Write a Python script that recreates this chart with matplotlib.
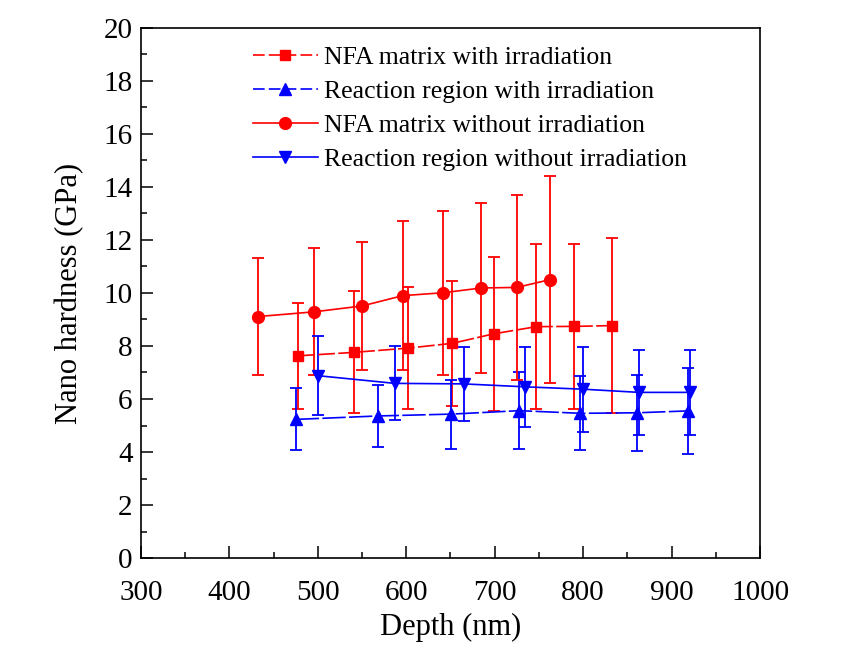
import matplotlib
matplotlib.use("Agg")
import matplotlib.pyplot as plt
from matplotlib.ticker import MultipleLocator
from matplotlib.lines import Line2D

plt.rcParams['font.family'] = ['Liberation Serif', 'DejaVu Serif']

# NFA matrix with irradiation (squares, dashed)
x_sq = [478, 541, 602, 652, 699, 747, 790, 833]
y_sq = [7.63, 7.76, 7.92, 8.10, 8.46, 8.73, 8.74, 8.77]
e_sq = [2.0, 2.3, 2.3, 2.35, 2.9, 3.1, 3.1, 3.3]

# Reaction region with irradiation (up triangles, dashed)
x_ut = [475, 568, 651, 728, 797, 861, 918]
y_ut = [5.23, 5.36, 5.43, 5.56, 5.46, 5.48, 5.55]
e_ut = [1.17, 1.17, 1.3, 1.45, 1.4, 1.43, 1.62]

# NFA matrix without irradiation (circles, solid)
x_ci = [432, 496, 550, 596, 642, 685, 725, 762]
y_ci = [9.11, 9.29, 9.51, 9.90, 10.01, 10.19, 10.21, 10.50]
e_ci = [2.2, 2.4, 2.4, 2.8, 3.1, 3.2, 3.5, 3.9]

# Reaction region without irradiation (down triangles, solid)
x_dt = [500, 587, 665, 734, 800, 863, 921]
y_dt = [6.88, 6.59, 6.57, 6.46, 6.37, 6.25, 6.25]
e_dt = [1.5, 1.4, 1.4, 1.5, 1.6, 1.6, 1.6]

labels = ["NFA matrix with irradiation",
          "Reaction region with irradiation",
          "NFA matrix without irradiation",
          "Reaction region without irradiation"]

fig = plt.figure(figsize=(8.44, 6.46), dpi=100)
ax = fig.add_axes([0.167, 0.1362, 0.7335, 0.8205])

red = '#ff0000'
blue = '#0000ff'
lw = 1.2
ekw = dict(elinewidth=1.3, capthick=1.3, capsize=4)

h1 = ax.errorbar(x_sq, y_sq, yerr=e_sq, color=red, marker='s', ms=6.5,
                 lw=lw, dashes=[10, 2], **ekw)
h2 = ax.errorbar(x_ut, y_ut, yerr=e_ut, color=blue, marker='^', ms=8.5,
                 lw=lw, dashes=[14, 2], **ekw)
h3 = ax.errorbar(x_ci, y_ci, yerr=e_ci, color=red, marker='o', ms=8.5,
                 lw=lw, **ekw)
h4 = ax.errorbar(x_dt, y_dt, yerr=e_dt, color=blue, marker='v', ms=8.5,
                 lw=lw, **ekw)

ax.set_xlim(300, 1000)
ax.set_ylim(0, 20)
ax.xaxis.set_major_locator(MultipleLocator(100))
ax.xaxis.set_minor_locator(MultipleLocator(50))
ax.yaxis.set_major_locator(MultipleLocator(2))
ax.yaxis.set_minor_locator(MultipleLocator(1))
ax.tick_params(which='both', direction='in', top=False, right=False,
               width=1.1, labelsize=21)
ax.tick_params(which='major', length=8.5)
ax.tick_params(which='minor', length=4.5)
ax.tick_params(axis='x', pad=16)
ax.tick_params(axis='y', pad=6)
for s in ax.spines.values():
    s.set_linewidth(1.2)

ax.set_xlabel("Depth (nm)", fontsize=22, labelpad=5)
ax.set_ylabel("Nano hardness (GPa)", fontsize=22, labelpad=14)

handles = [
    Line2D([], [], color=red, marker='s', ms=6.5, lw=lw, dashes=[7, 2.5]),
    Line2D([], [], color=blue, marker='^', ms=8.5, lw=lw, dashes=[7, 2.5]),
    Line2D([], [], color=red, marker='o', ms=8.5, lw=lw),
    Line2D([], [], color=blue, marker='v', ms=8.5, lw=lw),
]
leg = ax.legend(handles, labels, loc='upper left',
                bbox_to_anchor=(0.165, 0.985), frameon=False, fontsize=18.5,
                handlelength=2.5, handletextpad=0.25, labelspacing=0.42,
                borderaxespad=0)

fig.savefig("out.png", dpi=100, facecolor='white')
